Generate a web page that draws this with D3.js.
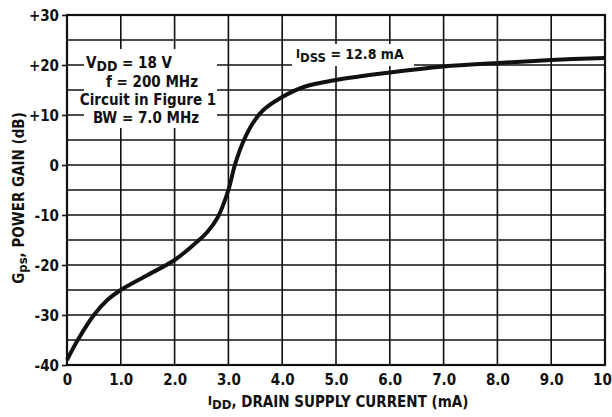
<!DOCTYPE html>
<html>
<head>
<meta charset="utf-8">
<script src="https://cdn.jsdelivr.net/npm/d3@7"></script>
<style>
  body { margin: 0; background: #fff; }
  svg { display: block; }
  text { font-family: "Liberation Sans Narrow", "DejaVu Sans Condensed", Arial, sans-serif; font-weight: bold; fill: #111; }
</style>
</head>
<body>
<div id="chart"></div>
<script>
// drain supply current (mA) vs power gain (dB)
var current = [0, 0.2, 0.5, 0.75, 1.0, 1.5, 2.0, 2.4, 2.6, 2.8, 3.0, 3.12, 3.27, 3.45, 3.65, 4.0, 4.4, 5.0, 6.0, 7.0, 8.0, 9.0, 10];
var gain = [-39, -35, -30, -27, -25, -22, -19, -15.5, -13.5, -10.5, -5, 0, 4.5, 8.3, 11, 13.6, 15.6, 17, 18.5, 19.7, 20.4, 21, 21.4];

var xTicks = [0, 1, 2, 3, 4, 5, 6, 7, 8, 9, 10];
var xTickLabels = ["0", "1.0", "2.0", "3.0", "4.0", "5.0", "6.0", "7.0", "8.0", "9.0", "10"];
var yTicks = [30, 20, 10, 0, -10, -20, -30, -40];
var yTickLabels = ["+30", "+20", "+10", "0", "-10", "-20", "-30", "-40"];
var yGrid = [25, 15, 5, -5, -15, -25, -35];

var width = 612, height = 417;
var plotLeft = 67, plotRight = 605, plotTop = 15, plotBottom = 365;

var svg = d3.select("#chart").append("svg")
	.attr("width", width)
	.attr("height", height);

var x = d3.scaleLinear().domain([0, 10]).range([plotLeft, plotRight]);
var y = d3.scaleLinear().domain([-40, 30]).range([plotBottom, plotTop]);

var ink = "#111";

// grid - vertical every 1 mA
svg.append("g").selectAll("line")
	.data(xTicks)
	.enter().append("line")
	.attr("x1", function(d) { return x(d); })
	.attr("x2", function(d) { return x(d); })
	.attr("y1", plotTop)
	.attr("y2", plotBottom)
	.style("stroke", ink)
	.style("stroke-width", 1.6);

// grid - horizontal every 5 dB
svg.append("g").selectAll("line")
	.data(yTicks.concat(yGrid))
	.enter().append("line")
	.attr("x1", plotLeft)
	.attr("x2", plotRight)
	.attr("y1", function(d) { return y(d); })
	.attr("y2", function(d) { return y(d); })
	.style("stroke", ink)
	.style("stroke-width", 1.6);

// frame
svg.append("rect")
	.attr("x", plotLeft).attr("y", plotTop)
	.attr("width", plotRight - plotLeft).attr("height", plotBottom - plotTop)
	.style("fill", "none").style("stroke", ink).style("stroke-width", 2.2);

// y axis labels with short outward ticks
var yAxis = d3.axisLeft(y)
	.tickValues(yTicks)
	.tickSize(5)
	.tickSizeOuter(0)
	.tickPadding(3)
	.tickFormat(function(d, i) { return yTickLabels[i]; });

var gy = svg.append("g").attr("transform", "translate(" + plotLeft + ",0)").call(yAxis);
gy.select(".domain").remove();
gy.selectAll("line").style("stroke", ink).style("stroke-width", 1.6);
gy.selectAll("text").style("font-size", "15px").attr("dy", "0.36em");

// x axis labels
var xAxis = d3.axisBottom(x)
	.tickValues(xTicks)
	.tickSize(0)
	.tickPadding(9)
	.tickFormat(function(d, i) { return xTickLabels[i]; });

var gx = svg.append("g").attr("transform", "translate(0," + plotBottom + ")").call(xAxis);
gx.select(".domain").remove();
gx.selectAll("text").style("font-size", "15px");
// last label sits at the page edge, nudge it in so it isn't clipped
gx.selectAll("text").filter(function(d) { return d === 10; }).attr("dx", -3);

// annotation boxes blank out the grid behind them
svg.append("rect").attr("x", 84).attr("y", 49).attr("width", 133).attr("height", 79).style("fill", "#fff");
svg.append("rect").attr("x", 292).attr("y", 44).attr("width", 122).attr("height", 22).style("fill", "#fff");

// curve
var line = d3.line()
	.x(function(d) { return x(d[0]); })
	.y(function(d) { return y(d[1]); })
	.curve(d3.curveCatmullRom.alpha(0.5));

svg.append("path")
	.datum(d3.zip(current, gain))
	.attr("d", line)
	.style("fill", "none")
	.style("stroke", ink)
	.style("stroke-width", 4)
	.style("stroke-linejoin", "round");

// conditions text
var t1 = svg.append("text").attr("x", 86).attr("y", 68).style("font-size", "15px");
t1.append("tspan").text("V");
t1.append("tspan").attr("dy", 3).style("font-size", "14px").text("DD");
t1.append("tspan").attr("dy", -3).text(" = 18 V");

svg.append("text").attr("x", 198).attr("y", 87).attr("text-anchor", "end").style("font-size", "15px").text("f = 200 MHz");
svg.append("text").attr("x", 148).attr("y", 105).attr("text-anchor", "middle").style("font-size", "15px").text("Circuit in Figure 1");
svg.append("text").attr("x", 146).attr("y", 123).attr("text-anchor", "middle").style("font-size", "15px").text("BW = 7.0 MHz");

var t2 = svg.append("text").attr("x", 296).attr("y", 59).style("font-size", "14px");
t2.append("tspan").attr("dy", -1).style("font-size", "12px").text("I");
t2.append("tspan").attr("dy", 4).style("font-size", "13px").text("DSS");
t2.append("tspan").attr("dy", -3).text(" = 12.8 mA");

// axis titles
var xt = svg.append("text").attr("x", 338).attr("y", 407).attr("text-anchor", "middle").style("font-size", "15px");
xt.append("tspan").attr("dy", -2).style("font-size", "13px").text("I");
xt.append("tspan").attr("dy", 4).style("font-size", "13px").text("DD");
xt.append("tspan").attr("dy", -2).text(", DRAIN SUPPLY CURRENT (mA)");

var yt = svg.append("text")
	.attr("transform", "translate(24,198) rotate(-90)")
	.attr("text-anchor", "middle")
	.style("font-size", "15px");
yt.append("tspan").text("G");
yt.append("tspan").attr("dy", 3).style("font-size", "13px").text("ps");
yt.append("tspan").attr("dy", -3).text(", POWER GAIN (dB)");
</script>
</body>
</html>
